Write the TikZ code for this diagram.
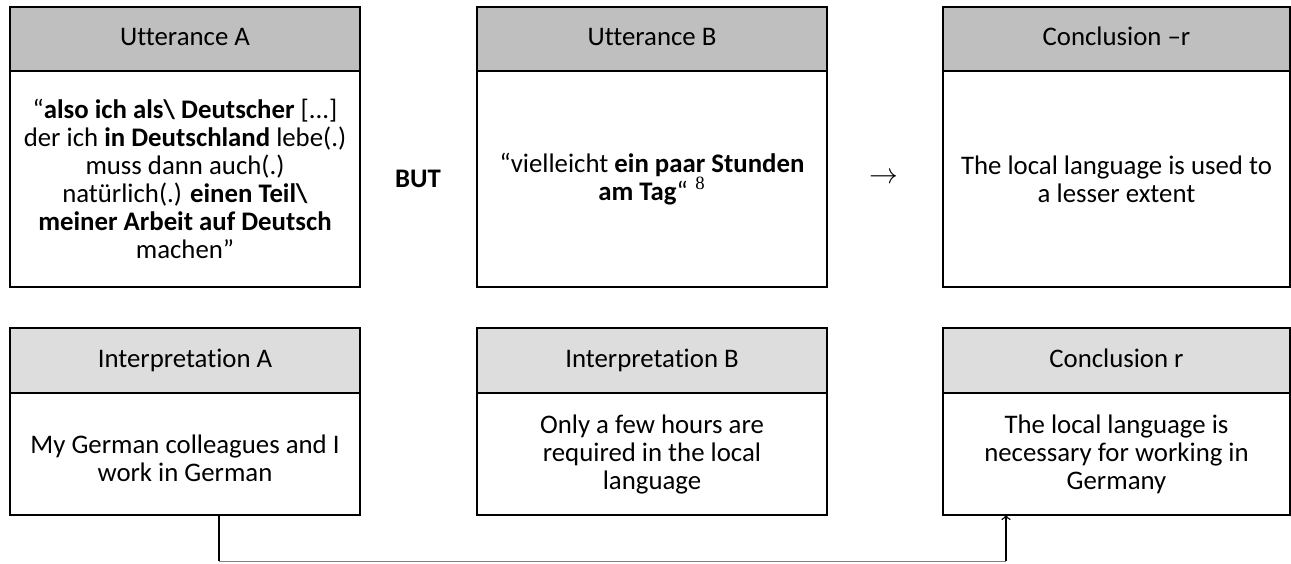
\documentclass[tikz,border=0pt]{standalone}
\usepackage{fontspec}
\setmainfont{Carlito}[Ligatures=NoCommon]
\newfontfamily\timesfont{Liberation Serif}
\usetikzlibrary{positioning}
\definecolor{headtop}{HTML}{BFBFBF}
\definecolor{headbot}{HTML}{DDDDDD}
\definecolor{linkgray}{HTML}{808080}
\begin{document}
\begin{tikzpicture}[x=0.5pt,y=-0.5pt,
    every node/.style={font=\fontsize{13.4}{14}\selectfont},
    head/.style={draw,line width=1pt,outer sep=0pt,anchor=north west,
      minimum width=175pt,text height=9pt,text depth=2.5pt},
    body/.style={draw,line width=1pt,outer sep=0pt,align=center,
      minimum width=175pt},
    vline/.style={line width=0.75pt},
    hline/.style={line width=0.5pt,linkgray}]
  \useasboundingbox (0,0) rectangle (1291,563);
  % Upper row: utterances and first conclusion
  \node[head,fill=headtop,minimum height=32pt] (uA) at (10,7) {Utterance A};
  \node[body,minimum height=108pt,below=0pt of uA] (uAt)
    {“\textbf{also ich als\textbackslash{} Deutscher} [...]\\
     der ich \textbf{in Deutschland} lebe(.)\\
     muss dann auch(.)\\
     natürlich(.) \textbf{einen Teil\textbackslash}\\
     \textbf{meiner Arbeit auf Deutsch}\\
     machen”};
  \node[head,fill=headtop,minimum height=32pt] (uB) at (477,7) {Utterance B};
  \node[body,minimum height=108pt,below=0pt of uB] (uBt)
    {“vielleicht \textbf{ein paar Stunden}\\
     \textbf{am Tag}“\;{\timesfont\textsuperscript{8}}};
  \node[head,fill=headtop,minimum height=32pt,minimum width=173.5pt] (cN) at (943,7)
    {Conclusion –r};
  \node[body,minimum height=108pt,minimum width=173.5pt,below=0pt of cN] (cNt)
    {The local language is used to\\a lesser extent};
  \node (but) at (418,179) {\textbf{BUT}};
  \node (then) at (884,178) {$\rightarrow$};
  % Lower row: interpretations and second conclusion
  \node[head,fill=headbot,minimum height=32.5pt] (iA) at (10,328) {Interpretation A};
  \node[body,minimum height=61pt,below=0pt of iA] (iAt)
    {\mbox{}\\My German colleagues and I\\work in German};
  \node[head,fill=headbot,minimum height=32.5pt] (iB) at (477,328) {Interpretation B};
  \node[body,minimum height=61pt,below=0pt of iB] (iBt)
    {Only a few hours are\\required in the local\\language};
  \node[head,fill=headbot,minimum height=32.5pt,minimum width=173.5pt] (cR) at (943,328)
    {Conclusion r};
  \node[body,minimum height=61pt,minimum width=173.5pt,below=0pt of cR] (cRt)
    {The local language is\\necessary for working in\\Germany};
  % link from interpretation A to conclusion r
  \coordinate (bl) at (219,561);
  \coordinate (br) at (1006,561);
  \draw[vline] (bl |- iAt.south) -- (bl);
  \draw[hline] (bl) -- (br);
  \draw[vline,->] (br) -- (br |- cRt.south);
\end{tikzpicture}
\end{document}
